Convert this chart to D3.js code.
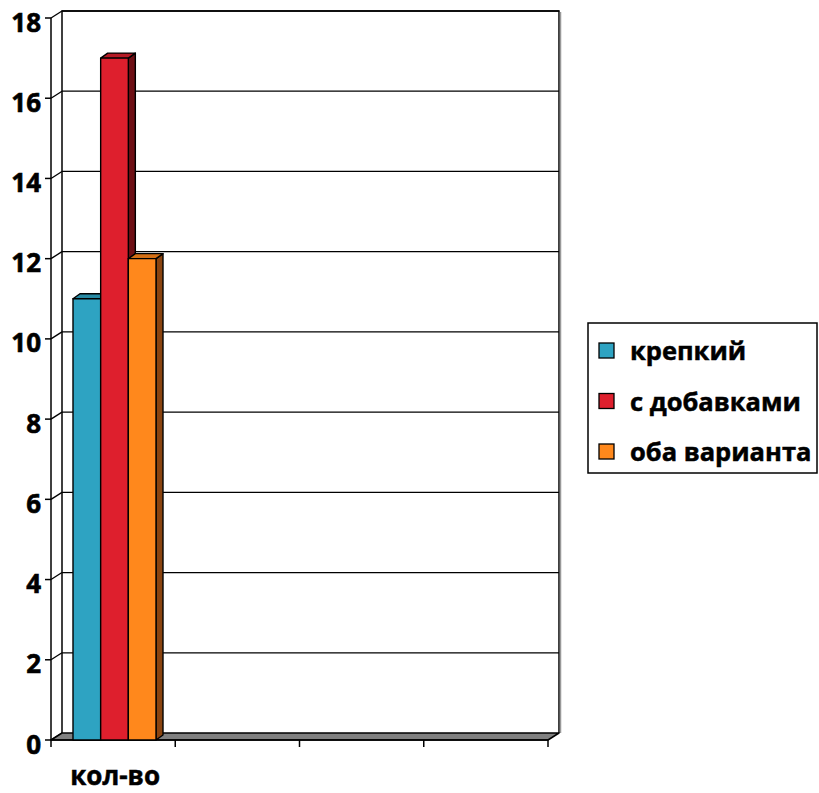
<!DOCTYPE html>
<html>
<head>
<meta charset="utf-8">
<script src="https://cdn.jsdelivr.net/npm/d3@7"></script>
<style>
  body { margin: 0; background: #fff; }
  svg text { font-family: "Open Sans", "Liberation Sans", sans-serif; font-weight: bold; fill: #000; }
</style>
</head>
<body>
<svg id="chart" width="819" height="793"></svg>
<script>
// Category slots on the x axis (only the first one carries data)
const categories = ["кол-во", "", "", ""];
const seriesNames = ["крепкий", "с добавками", "оба варианта"];
const seriesValues = [
  [11, null, null, null],
  [17, null, null, null],
  [12, null, null, null]
];
const yTicks = [0, 2, 4, 6, 8, 10, 12, 14, 16, 18];

const colors = [
  { front: "#2ea3c2", top: "#2789a3", side: "#1b5f70" },
  { front: "#de1f2d", top: "#b51a25", side: "#6e1015" },
  { front: "#ff881c", top: "#d46f15", side: "#8a4410" }
];

const svg = d3.select("#chart");

// Front plane scales plus a fixed oblique offset for the back wall
const depth = { dx: 11, dy: -7 };
const barDepth = { dx: 7, dy: -5 };
const y = d3.scaleLinear().domain([0, 18]).range([740, 18]);
const x = d3.scaleBand().domain(d3.range(categories.length)).range([51, 548]).padding(0);
// Column group sits in the middle of its category slot
const xInner = d3.scaleBand().domain(d3.range(seriesNames.length))
  .range([22, 105]).padding(0);

const x0 = x.range()[0], x1 = x.range()[1];

// Back wall
svg.append("rect")
  .attr("x", x0 + depth.dx).attr("y", y(18) + depth.dy)
  .attr("width", x1 - x0).attr("height", y(0) - y(18))
  .attr("fill", "#fff").attr("stroke", "none");

// Gridlines: along the back wall and down the left side to the axis
const grid = svg.append("g").attr("stroke", "#000").attr("stroke-width", 1.3);
yTicks.forEach(t => {
  if (t > 0) {
    grid.append("line")
      .attr("x1", x0 + depth.dx).attr("x2", x1 + depth.dx)
      .attr("y1", y(t) + depth.dy).attr("y2", y(t) + depth.dy);
  }
  grid.append("line")
    .attr("x1", x0).attr("y1", y(t))
    .attr("x2", x0 + depth.dx).attr("y2", y(t) + depth.dy);
});
// Back wall outline
svg.append("path")
  .attr("d", `M${x0 + depth.dx},${y(0) + depth.dy}V${y(18) + depth.dy}H${x1 + depth.dx}V${y(0) + depth.dy}`)
  .attr("fill", "none").attr("stroke", "#000").attr("stroke-width", 1.5);
svg.append("line")
  .attr("x1", x1 + depth.dx + 1.5).attr("x2", x1 + depth.dx + 1.5)
  .attr("y1", y(18) + depth.dy + 1).attr("y2", y(0) + depth.dy)
  .attr("stroke", "#999").attr("stroke-width", 1.5);

// Floor
svg.append("path")
  .attr("d", `M${x0},${y(0)}L${x0 + depth.dx},${y(0) + depth.dy}L${x1 + depth.dx},${y(0) + depth.dy}L${x1},${y(0)}Z`)
  .attr("fill", "#808080").attr("stroke", "#000").attr("stroke-width", 1.5)
  .attr("stroke-linejoin", "round");

// Value axis
const yAxis = svg.append("g");
yAxis.append("line")
  .attr("x1", x0).attr("x2", x0).attr("y1", y(0)).attr("y2", y(18))
  .attr("stroke", "#000").attr("stroke-width", 1.5);
yTicks.forEach(t => {
  yAxis.append("line")
    .attr("x1", x0 - 6).attr("x2", x0).attr("y1", y(t)).attr("y2", y(t))
    .attr("stroke", "#000").attr("stroke-width", 1.5);
  yAxis.append("text")
    .attr("x", 41).attr("y", y(t) + 13.5)
    .attr("text-anchor", "end").attr("font-size", 26)
    .attr("stroke", "#000").attr("stroke-width", 0.6)
    .text(t);
});

// Category axis
const xAxis = svg.append("g");
xAxis.append("line")
  .attr("x1", x0).attr("x2", x1).attr("y1", y(0)).attr("y2", y(0))
  .attr("stroke", "#000").attr("stroke-width", 1.5);
d3.range(categories.length + 1).forEach(i => {
  const px = i < categories.length ? x(i) : x1;
  xAxis.append("line")
    .attr("x1", px).attr("x2", px).attr("y1", y(0)).attr("y2", y(0) + 7)
    .attr("stroke", "#000").attr("stroke-width", 1.5);
});
categories.forEach((c, i) => {
  if (!c) return;
  xAxis.append("text")
    .attr("x", x(i) + x.bandwidth() / 2 + 2).attr("y", 785)
    .attr("text-anchor", "middle").attr("font-size", 26)
    .attr("stroke", "#000").attr("stroke-width", 0.5)
    .text(c);
});

// 3D columns, drawn left to right so each front face overlaps the previous side
const bars = svg.append("g").attr("stroke", "#000").attr("stroke-width", 1.4).attr("stroke-linejoin", "round");
categories.forEach((c, ci) => {
  seriesNames.forEach((s, si) => {
    const v = seriesValues[si][ci];
    if (v == null) return;
    const bx0 = x(ci) + xInner(si);
    const bx1 = bx0 + xInner.bandwidth();
    const yt = y(v), yb = y(0);
    const col = colors[si];
    bars.append("path")
      .attr("d", `M${bx1},${yt}L${bx1 + barDepth.dx},${yt + barDepth.dy}L${bx1 + barDepth.dx},${yb + barDepth.dy}L${bx1},${yb}Z`)
      .attr("fill", col.side);
    bars.append("path")
      .attr("d", `M${bx0},${yt}L${bx0 + barDepth.dx},${yt + barDepth.dy}L${bx1 + barDepth.dx},${yt + barDepth.dy}L${bx1},${yt}Z`)
      .attr("fill", col.top);
    bars.append("rect")
      .attr("x", bx0).attr("y", yt).attr("width", bx1 - bx0).attr("height", yb - yt)
      .attr("fill", col.front);
  });
});

// Legend
const legend = svg.append("g");
legend.append("rect")
  .attr("x", 588).attr("y", 323).attr("width", 229).attr("height", 150)
  .attr("fill", "#fff").attr("stroke", "#000").attr("stroke-width", 1.5);
seriesNames.forEach((s, i) => {
  const cy = 352 + i * 50.5;
  legend.append("rect")
    .attr("x", 599).attr("y", cy - 9).attr("width", 15).attr("height", 15)
    .attr("fill", colors[i].front).attr("stroke", "#000").attr("stroke-width", 1.3);
  legend.append("text")
    .attr("x", 630).attr("y", cy + 8)
    .attr("font-size", 25.5)
    .attr("stroke", "#000").attr("stroke-width", 0.5)
    .text(s);
});
</script>
</body>
</html>
